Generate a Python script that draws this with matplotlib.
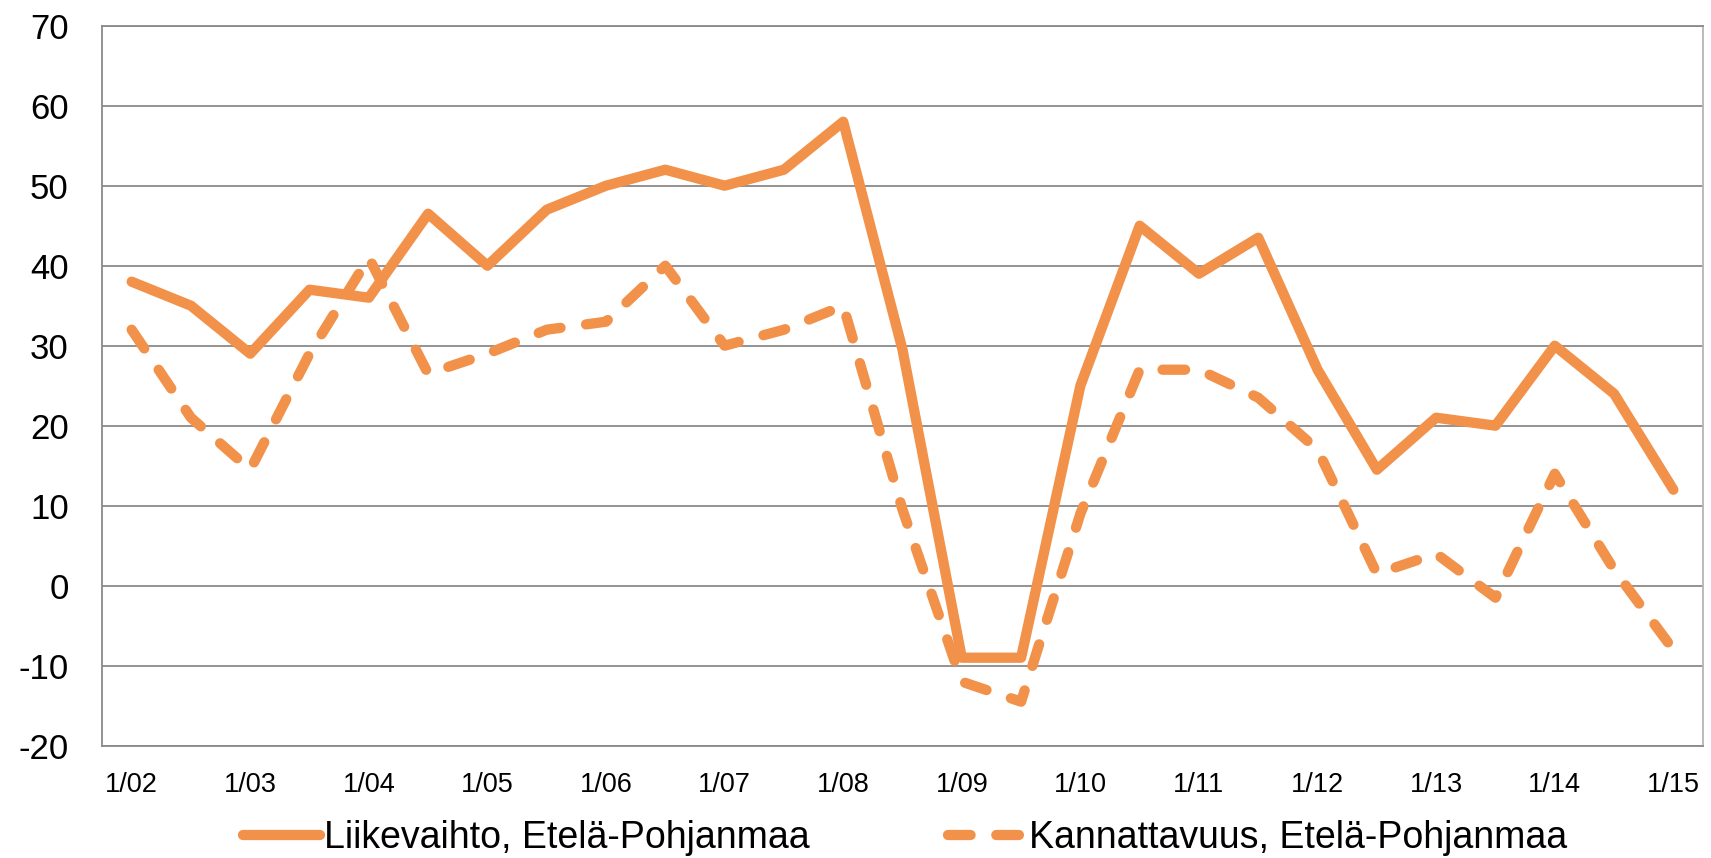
import numpy as np
import matplotlib
matplotlib.use("Agg")
import matplotlib.pyplot as plt

# half-year observations, 1/02 ... 1/15
tick_labels = ["1/02", "1/03", "1/04", "1/05", "1/06", "1/07", "1/08",
               "1/09", "1/10", "1/11", "1/12", "1/13", "1/14", "1/15"]
liikevaihto = [38, 35, 29, 37, 36, 46.5, 40, 47, 50, 52, 50, 52, 58, 29.5,
               -9, -9, 25, 45, 39, 43.5, 27, 14.5, 21, 20, 30, 24, 12]
kannattavuus = [32, 21, 14.5, 29, 41, 26.5, 29, 32, 33, 40, 30, 32, 35, 9.5,
                -12, -14.5, 9, 27, 27, 23.5, 17, 1.5, 4, -1.5, 14, 2, -8]
series_names = ["Liikevaihto, Etelä-Pohjanmaa", "Kannattavuus, Etelä-Pohjanmaa"]

ORANGE = "#F29149"
GRID = "#8a8a8a"


def main():
    plt.rcParams["font.family"] = ["Liberation Sans", "DejaVu Sans"]
    plt.rcParams["axes.unicode_minus"] = False
    fig = plt.figure(figsize=(17.11, 8.58), dpi=100)
    ax = fig.add_axes([102 / 1711, 1 - 745.7 / 858, 1601 / 1711, 720 / 858])

    x = np.arange(len(liikevaihto))
    ax.plot(x, liikevaihto, color=ORANGE, lw=7.4, solid_joinstyle="round",
            solid_capstyle="round", label=series_names[0], zorder=3)
    ax.plot(x, kannattavuus, color=ORANGE, lw=7.4, linestyle=(0, (2.2, 2.5)),
            dash_capstyle="round", dash_joinstyle="round",
            label=series_names[1], zorder=3)

    ax.set_xlim(-0.5, len(x) - 0.5)
    ax.set_ylim(-20, 70)
    ax.set_yticks(range(-20, 71, 10))
    ax.set_xticks(x[::2])
    ax.set_xticklabels(tick_labels)
    ax.tick_params(axis="y", length=0, pad=24, labelsize=25)
    ax.tick_params(axis="x", length=0, pad=19, labelsize=19.5)

    ax.grid(axis="y", color=GRID, lw=1.3, zorder=1)
    ax.set_axisbelow(True)
    for side in ["left", "bottom", "top"]:
        ax.spines[side].set_color(GRID)
        ax.spines[side].set_linewidth(1.3)
    ax.spines["right"].set_color("#b5b5b5")
    ax.spines["right"].set_linewidth(1.3)

    fig.legend(loc="center", bbox_to_anchor=(0.529, 0.0233), ncol=2,
               frameon=False, fontsize=27, handlelength=2.05,
               handletextpad=0.1, columnspacing=3.7, borderaxespad=0)

    fig.savefig("out.png", dpi=100)


if __name__ == "__main__":
    main()
